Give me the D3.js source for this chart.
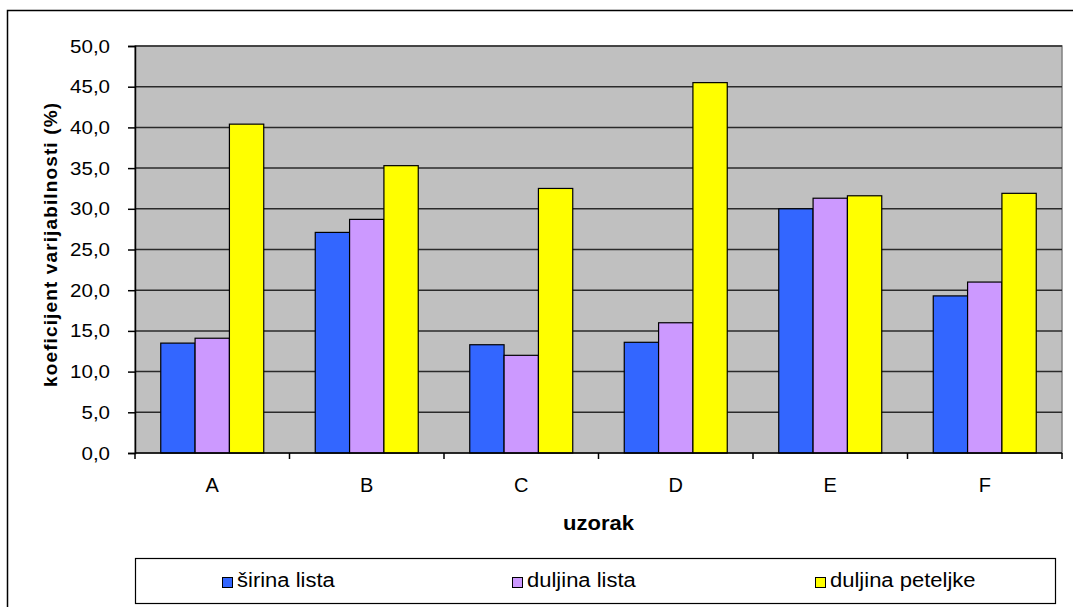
<!DOCTYPE html>
<html>
<head>
<meta charset="utf-8">
<script src="https://cdn.jsdelivr.net/npm/d3@7"></script>
<style>
    body { margin: 0; background: white; }
    svg { display: block; font-family: "Liberation Sans", Arial, sans-serif; }
    .axis text { font-size: 19px; fill: black; }
</style>
</head>
<body>
<div id="chart"></div>
<script>
    var categories = ["A", "B", "C", "D", "E", "F"];
    var seriesNames = ["širina lista", "duljina lista", "duljina peteljke"];
    var sirinaLista = [13.5, 27.1, 13.3, 13.6, 30.0, 19.3];
    var duljinaLista = [14.1, 28.7, 12.0, 16.0, 31.3, 21.0];
    var duljinaPeteljke = [40.4, 35.3, 32.5, 45.5, 31.6, 31.9];
    var yTicks = [0, 5, 10, 15, 20, 25, 30, 35, 40, 45, 50];
    var colors = ["#3366ff", "#cc99ff", "#ffff00"];

    var series = [sirinaLista, duljinaLista, duljinaPeteljke];

    var W = 1073, H = 607;
    var plot = { left: 135, right: 1062, top: 46, bottom: 453 };

    // stretch text a bit wider, the original was rendered wide
    function widen(sel, f) {
        sel.each(function () {
            var len = this.getComputedTextLength();
            d3.select(this)
                .attr("textLength", len * f)
                .attr("lengthAdjust", "spacingAndGlyphs");
        });
    }

    var svg = d3.select("#chart").append("svg")
        .attr("width", W)
        .attr("height", H);

    // outer chart border
    svg.append("rect")
        .attr("x", 7.5).attr("y", 10.5)
        .attr("width", 1090).attr("height", 620)
        .attr("fill", "white")
        .attr("stroke", "black")
        .attr("stroke-width", 1.5);

    var x = d3.scaleBand()
        .domain(categories)
        .range([plot.left, plot.right]);

    var y = d3.scaleLinear()
        .domain([0, 50])
        .range([plot.bottom, plot.top]);

    // gap width 150%
    var inner = d3.scaleBand()
        .domain(d3.range(series.length))
        .range([0, x.bandwidth()])
        .paddingOuter(0.75)
        .paddingInner(0);

    // plot background
    svg.append("rect")
        .attr("x", plot.left).attr("y", plot.top)
        .attr("width", plot.right - plot.left)
        .attr("height", plot.bottom - plot.top)
        .attr("fill", "#c0c0c0")
        .attr("stroke", "#808080")
        .attr("stroke-width", 1.5);

    // gridlines
    svg.append("g").selectAll("line")
        .data(yTicks.filter(function (d) { return d > 0; }))
        .enter().append("line")
        .attr("x1", plot.left).attr("x2", plot.right)
        .attr("y1", function (d) { return y(d); })
        .attr("y2", function (d) { return y(d); })
        .attr("stroke", "#2a2a2a")
        .attr("stroke-width", 1.5);

    // bars
    var groups = svg.append("g").selectAll("g")
        .data(series)
        .enter().append("g")
        .attr("fill", function (d, i) { return colors[i]; });

    groups.selectAll("rect")
        .data(function (d, i) {
            return d.map(function (v, j) { return { s: i, cat: categories[j], v: v }; });
        })
        .enter().append("rect")
        .attr("x", function (d) { return x(d.cat) + inner(d.s); })
        .attr("y", function (d) { return y(d.v); })
        .attr("width", inner.bandwidth())
        .attr("height", function (d) { return y(0) - y(d.v); })
        .attr("stroke", "black")
        .attr("stroke-width", 1.2);

    // y axis
    var yAxis = d3.axisLeft(y)
        .tickValues(yTicks)
        .tickSize(7)
        .tickPadding(18)
        .tickFormat(function (d) { return d3.format(".1f")(d).replace(".", ","); });

    svg.append("g")
        .attr("class", "axis")
        .attr("transform", "translate(" + plot.left + ",0)")
        .call(yAxis)
        .call(function (g) {
            g.select(".domain").attr("stroke", "black").attr("stroke-width", 1.5);
            g.selectAll(".tick line").attr("stroke", "black").attr("stroke-width", 1.5);
            g.selectAll(".tick text").call(widen, 1.08);
        });

    // x axis with ticks between categories
    var xAxisG = svg.append("g")
        .attr("class", "axis")
        .attr("transform", "translate(0," + plot.bottom + ")");

    xAxisG.append("line")
        .attr("x1", plot.left).attr("x2", plot.right)
        .attr("stroke", "black").attr("stroke-width", 1.5);

    xAxisG.selectAll("line.sep")
        .data(categories.concat(["end"]))
        .enter().append("line")
        .attr("class", "sep")
        .attr("x1", function (d, i) { return i < categories.length ? x(d) : plot.right; })
        .attr("x2", function (d, i) { return i < categories.length ? x(d) : plot.right; })
        .attr("y1", 0).attr("y2", 6)
        .attr("stroke", "black").attr("stroke-width", 1.5);

    xAxisG.selectAll("text")
        .data(categories)
        .enter().append("text")
        .attr("x", function (d) { return x(d) + x.bandwidth() / 2; })
        .attr("y", 39)
        .attr("text-anchor", "middle")
        .style("font-size", "20px")
        .text(function (d) { return d; });

    // axis titles
    svg.append("text")
        .attr("x", (plot.left + plot.right) / 2)
        .attr("y", 530)
        .attr("text-anchor", "middle")
        .attr("font-weight", "bold")
        .attr("font-size", "20px")
        .text("uzorak")
        .call(widen, 1.1);

    svg.append("text")
        .attr("transform", "translate(57,245) rotate(-90)")
        .attr("text-anchor", "middle")
        .attr("font-weight", "bold")
        .attr("font-size", "19px")
        .attr("textLength", 284)
        .attr("lengthAdjust", "spacing")
        .text("koeficijent varijabilnosti (%)");

    // legend
    var legend = svg.append("g");
    legend.append("rect")
        .attr("x", 135.5).attr("y", 558.5)
        .attr("width", 920).attr("height", 45)
        .attr("fill", "white")
        .attr("stroke", "black")
        .attr("stroke-width", 1.2);

    var legendX = [222, 512, 815];
    var items = legend.selectAll("g.item")
        .data(seriesNames)
        .enter().append("g")
        .attr("class", "item")
        .attr("transform", function (d, i) { return "translate(" + legendX[i] + ",577)"; });

    items.append("rect")
        .attr("x", 0.5).attr("y", 0.5)
        .attr("width", 10).attr("height", 10)
        .attr("fill", function (d, i) { return colors[i]; })
        .attr("stroke", "black")
        .attr("stroke-width", 1);

    items.append("text")
        .attr("x", 15)
        .attr("y", 10)
        .attr("font-size", "20px")
        .text(function (d) { return d; })
        .call(widen, 1.1);
</script>
</body>
</html>
